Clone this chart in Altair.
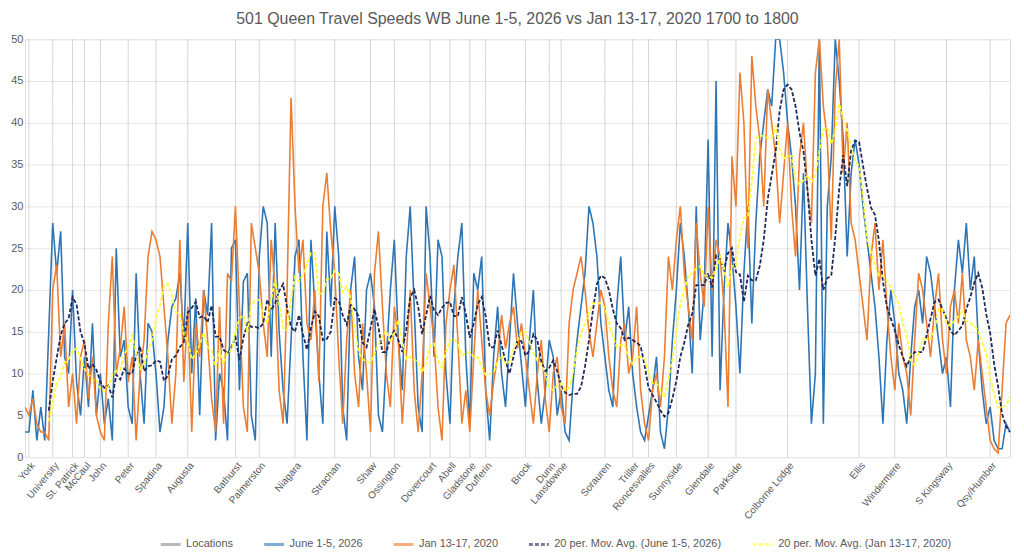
import pandas as pd
import altair as alt

# Location names along the route and the sample index where each falls
locations = ["York", "University", "St. Patrick", "McCaul", "John", "Peter", "Spadina",
             "Augusta", "Bathurst", "Palmerston", "Niagara", "Strachan", "Shaw", "Ossington",
             "Dovercourt", "Abell", "Gladstone", "Dufferin", "Brock", "Dunn", "Lansdowne",
             "Sorauren", "Triller", "Roncesvalles", "Sunnyside", "Glendale", "Parkside",
             "Colborne Lodge", "Ellis", "Windermere", "S Kingsway", "Qsy/Humber"]
location_idx = [1, 7, 12, 15, 19, 26, 33, 41, 53, 59, 68, 78, 87, 93, 102, 107, 112, 116,
                126, 132, 135, 146, 153, 157, 164, 172, 179, 192, 210, 219, 232, 243]

# Travel speeds (km/h), June 1-5, 2026
june_2026 = [3, 3, 8, 2, 6, 2, 15, 28, 22, 27, 12, 10, 20, 9, 5, 12, 6, 16, 5, 10, 4, 7, 2, 25, 12,
             14, 6, 4, 22, 10, 4, 16, 15, 10, 3, 6, 14, 18, 19, 22, 14, 28, 10, 19, 5, 20, 17, 28, 2, 10,
             8, 2, 25, 26, 8, 21, 22, 5, 2, 24, 30, 28, 12, 28, 15, 8, 4, 14, 24, 26, 12, 2, 26, 18, 10,
             4, 27, 18, 30, 24, 6, 2, 20, 24, 12, 8, 20, 22, 18, 5, 3, 12, 20, 26, 14, 8, 24, 30, 18, 6,
             3, 30, 24, 12, 26, 24, 10, 4, 18, 24, 28, 12, 4, 22, 20, 24, 8, 2, 12, 18, 10, 6, 14, 22, 16,
             11, 6, 14, 20, 9, 4, 8, 14, 12, 5, 8, 3, 2, 9, 14, 18, 22, 30, 28, 24, 16, 12, 8, 6, 18,
             24, 14, 18, 10, 6, 3, 2, 5, 8, 12, 3, 1, 6, 14, 20, 28, 24, 18, 10, 30, 14, 20, 38, 12, 45,
             8, 20, 28, 24, 18, 10, 22, 30, 16, 28, 36, 40, 44, 42, 50, 50, 46, 40, 36, 30, 20, 34, 18, 4, 10,
             50, 4, 30, 36, 50, 45, 38, 24, 34, 38, 35, 30, 26, 22, 18, 12, 4, 14, 20, 16, 10, 8, 4, 12, 18,
             20, 16, 24, 22, 18, 14, 10, 12, 6, 20, 26, 22, 28, 20, 24, 14, 8, 4, 6, 2, 1, 1, 4, 3]

# Travel speeds (km/h), Jan 13-17, 2020
jan_2020 = [6, 5, 7, 4, 3, 3, 2, 20, 23, 12, 16, 6, 10, 4, 12, 14, 7, 12, 5, 3, 2, 16, 24, 10, 13,
            18, 9, 12, 2, 10, 14, 24, 27, 26, 24, 18, 12, 4, 10, 26, 9, 18, 3, 16, 12, 20, 14, 7, 3, 18,
            4, 22, 21, 30, 18, 6, 3, 28, 25, 22, 16, 12, 26, 20, 8, 4, 20, 43, 30, 22, 26, 16, 14, 20, 9,
            30, 34, 27, 22, 12, 4, 14, 20, 10, 6, 16, 10, 3, 22, 27, 18, 10, 6, 18, 14, 4, 12, 20, 8, 3,
            10, 22, 18, 14, 6, 2, 16, 20, 23, 14, 4, 8, 3, 12, 20, 14, 8, 5, 9, 12, 17, 13, 16, 18, 13,
            16, 12, 8, 4, 10, 14, 7, 3, 10, 12, 6, 4, 16, 20, 22, 24, 20, 15, 12, 16, 20, 18, 12, 8, 6,
            14, 16, 10, 12, 18, 8, 4, 2, 8, 10, 6, 12, 24, 20, 26, 30, 22, 18, 14, 28, 22, 18, 30, 20, 26,
            24, 18, 6, 36, 30, 46, 40, 25, 48, 42, 38, 30, 44, 40, 36, 28, 34, 40, 30, 24, 36, 40, 32, 28, 46,
            50, 42, 38, 26, 44, 50, 34, 40, 28, 26, 22, 18, 14, 24, 28, 20, 26, 18, 12, 8, 16, 12, 10, 5, 14,
            22, 20, 16, 12, 18, 22, 14, 10, 18, 20, 16, 22, 14, 12, 8, 14, 10, 6, 2, 1, 0.5, 8, 16, 17]

S_JUNE = "June 1-5, 2026"
S_JAN = "Jan 13-17, 2020"
MA_JUNE = "20 per. Mov. Avg. (June 1-5, 2026)"
MA_JAN = "20 per. Mov. Avg. (Jan 13-17, 2020)"
series = ["Locations", S_JUNE, S_JAN, MA_JUNE, MA_JAN]
colors = ["#8c8c8c", "#2e75b6", "#ed7d31", "#1f2a5a", "#ffff33"]
dashes = [[1, 0], [1, 0], [1, 0], [4, 2], [4, 2]]

raw = pd.concat([
    pd.DataFrame({"idx": range(len(june_2026)), "speed": june_2026, "series": S_JUNE}),
    pd.DataFrame({"idx": range(len(jan_2020)), "speed": jan_2020, "series": S_JAN}),
])
locs = pd.DataFrame({"idx": location_idx, "name": locations, "series": "Locations"})

label_map = "{" + ",".join(f"'{i}':'{n}'" for i, n in zip(location_idx, locations)) + "}"

H = 420
x_scale = alt.Scale(domain=[0, len(june_2026) - 1], nice=False, zero=False)
y_scale = alt.Scale(domain=[0, 50])
color = alt.Color("series:N", scale=alt.Scale(domain=series, range=colors),
                  legend=alt.Legend(title=None, orient="none", legendX=135, legendY=H + 76,
                                    direction="horizontal",
                                    symbolType="stroke", symbolStrokeWidth=3, labelFontSize=11,
                                    labelColor="#595959", columnPadding=24, symbolSize=400,
                                    labelLimit=0))
dash = alt.StrokeDash("series:N", scale=alt.Scale(domain=series, range=dashes), legend=None)

x_axis = alt.Axis(values=location_idx, labelExpr=f"{label_map}[''+datum.value]", labelAngle=-50,
                  labelAlign="right", labelBaseline="top", grid=False, ticks=False, domain=False,
                  title=None, labelFontSize=10, labelColor="#595959", labelPadding=3,
                  labelOverlap=False, labelBound=False, labelFlush=False)
y_axis = alt.Axis(values=list(range(0, 51, 5)), grid=True, gridColor="#e8e8e8", ticks=False,
                  domain=False, title=None, labelFontSize=11, labelColor="#595959")
x_enc = alt.X("idx:Q", scale=x_scale, axis=x_axis)

rules = alt.Chart(locs).mark_rule(strokeWidth=0.6, opacity=0.6).encode(
    x=x_enc,
    color=color,
    strokeDash=dash,
)

lines = alt.Chart(raw).mark_line(strokeWidth=1.6, clip=True).encode(
    x=x_enc,
    y=alt.Y("speed:Q", scale=y_scale, axis=y_axis),
    color=color,
    strokeDash=dash,
)

ma = alt.Chart(raw).transform_window(
    ma="mean(speed)", frame=[-6, 0], groupby=["series"], sort=[alt.SortField("idx")]
).transform_filter("datum.idx >= 6").transform_calculate(
    series="datum.series == '" + S_JUNE + "' ? '" + MA_JUNE + "' : '" + MA_JAN + "'"
).mark_line(strokeWidth=1.8).encode(
    x=x_enc,
    y=alt.Y("ma:Q", scale=y_scale, axis=y_axis),
    color=color,
    strokeDash=dash,
)

chart = alt.layer(rules, lines, ma).properties(
    width=990, height=H,
    title=alt.Title("501 Queen Travel Speeds WB June 1-5, 2026 vs Jan 13-17, 2020 1700 to 1800",
                    fontSize=16, fontWeight="normal", color="#595959", offset=6),
    padding={"left": 2, "right": 2, "top": 2, "bottom": 2},
).configure_view(fill="#bfbfbf", stroke=None).configure(font="Liberation Sans")

chart.save("out.html", embed_options={"renderer": "svg", "actions": False})
